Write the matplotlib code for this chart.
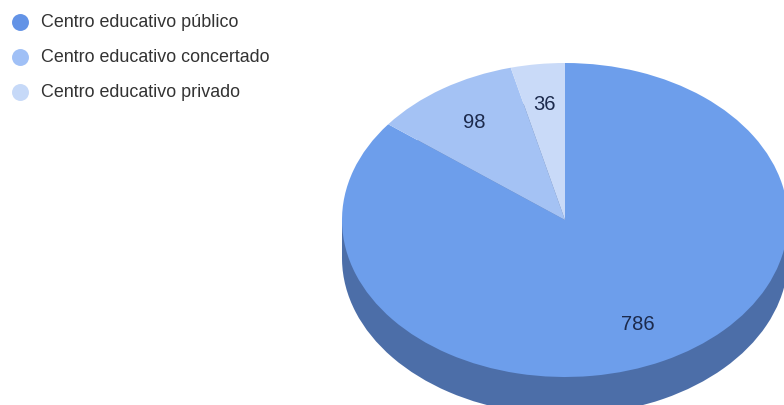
import numpy as np
import matplotlib
matplotlib.use("Agg")
import matplotlib.pyplot as plt
from matplotlib.patches import Rectangle

labels = ["Centro educativo público", "Centro educativo concertado", "Centro educativo privado"]
values = [786, 98, 36]
colors = ["#6d9eeb", "#a4c2f4", "#c9daf8"]
legend_colors = ["#6393e6", "#a0c0f6", "#c6d9f8"]
side_color = "#4c6ea8"

W, H = 784, 405
cx, cy = 565, 220
rx, ry = 223, 157
depth = 38

plt.rcParams["font.family"] = ["Liberation Sans", "DejaVu Sans"]
fig = plt.figure(figsize=(W / 100, H / 100), dpi=100)
ax = fig.add_axes([0, 0, 1, 1])

# one data unit = one pie radius, different in x and y so the pie is flat
d = depth / ry
ax.add_patch(Rectangle((-1, -d), 2, d, color=side_color, lw=0))
ax.pie(values, colors=[side_color] * 3, startangle=90, counterclock=False, center=(0, -d), radius=1)
wedges, _ = ax.pie(values, colors=colors, startangle=90, counterclock=False, center=(0, 0), radius=1)
ax.set_aspect("auto")
ax.set_xlim(-cx / rx, (W - cx) / rx)
ax.set_ylim((cy - H) / ry, cy / ry)
ax.axis("off")

# value labels inside the slices
for w, v in zip(wedges, values):
    ang = np.deg2rad((w.theta1 + w.theta2) / 2)
    ax.text(0.74 * np.cos(ang), 0.74 * np.sin(ang), str(v), ha="center", va="center", fontsize=14.5, color="#1c2a4c")

# legend
for i, (lab, c) in enumerate(zip(labels, legend_colors)):
    py = 22.5 + 35 * i
    fig.text(41 / W, 1 - py / H, lab, ha="left", va="center", fontsize=12.9, color="#333333")
    ax.plot([(19.5 - cx) / rx], [(cy - py) / ry], "o", ms=12.2, color=c, mew=0, clip_on=False)

fig.savefig("out.png", dpi=100)
